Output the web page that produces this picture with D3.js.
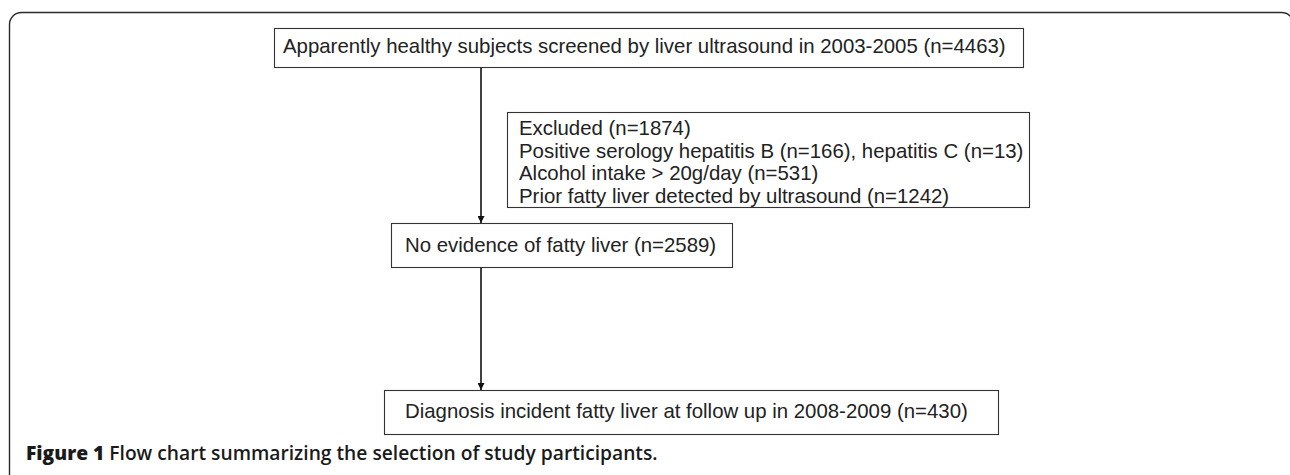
<!DOCTYPE html>
<html>
<head>
<meta charset="utf-8">
<script src="https://cdn.jsdelivr.net/npm/d3@7"></script>
<style>
  html, body { margin: 0; padding: 0; background: #fff; }
  svg { display: block; }
</style>
</head>
<body>
<svg id="chart" width="1290" height="475"></svg>
<script>
// ---- data ----
const stepLabels = [
  "Apparently healthy subjects screened by liver ultrasound in 2003-2005",
  "No evidence of fatty liver",
  "Diagnosis incident fatty liver at follow up in 2008-2009"
];
const stepCounts = [4463, 2589, 430];
const excludedLabel = "Excluded";
const excludedTotal = 1874;
const exclusionReasons = [
  "Positive serology hepatitis B (n=166), hepatitis C (n=13)",
  "Alcohol intake > 20g/day (n=531)",
  "Prior fatty liver detected by ultrasound (n=1242)"
];
const captionBold = "Figure 1";
const captionText = "Flow chart summarizing the selection of study participants.";

// ---- layout (positions only) ----
const stepBoxes = [
  {x0: 274, x1: 1023, y0: 28, y1: 67, tx: 283, ty: 53},
  {x0: 391, x1: 732, y0: 223, y1: 267, tx: 405, ty: 252},
  {x0: 384, x1: 998, y0: 390, y1: 434, tx: 405, ty: 418}
];
const exclBox = {x0: 507, x1: 1029, y0: 112, y1: 207, tx: 519, ty0: 135, dy: 22.6};
const arrowX = 481;
const textColor = "#222";
const fontFamily = "'Liberation Sans', Arial, Helvetica, sans-serif";
const fontSize = 20.4;

const svg = d3.select("#chart");

// arrow marker
svg.append("defs").append("marker")
  .attr("id", "arrow")
  .attr("viewBox", "0 0 10 10")
  .attr("refX", 10).attr("refY", 5)
  .attr("markerUnits", "userSpaceOnUse")
  .attr("markerWidth", 8).attr("markerHeight", 7)
  .attr("orient", "auto")
  .append("path").attr("d", "M0,0 L10,5 L0,10 Z").attr("fill", "#111");

// outer frame (rounded, open at bottom/right beyond view)
svg.append("rect")
  .attr("x", 9.5).attr("y", 12.5)
  .attr("width", 1284).attr("height", 520)
  .attr("rx", 12).attr("ry", 12)
  .attr("fill", "none").attr("stroke", "#2a2a2a").attr("stroke-width", 1.4);

// connectors
const links = [
  [stepBoxes[0].y1, stepBoxes[1].y0],
  [stepBoxes[1].y1, stepBoxes[2].y0]
];
svg.selectAll("line.link").data(links).join("line")
  .attr("class", "link")
  .attr("x1", arrowX).attr("x2", arrowX)
  .attr("y1", d => d[0]).attr("y2", d => d[1])
  .attr("stroke", "#111").attr("stroke-width", 1.6)
  .attr("marker-end", "url(#arrow)");

// step boxes
const g = svg.selectAll("g.step").data(stepLabels.map((l, i) => ({label: l, n: stepCounts[i], box: stepBoxes[i]})))
  .join("g").attr("class", "step");
g.append("rect")
  .attr("x", d => d.box.x0 + 0.5).attr("y", d => d.box.y0 + 0.5)
  .attr("width", d => d.box.x1 - d.box.x0).attr("height", d => d.box.y1 - d.box.y0)
  .attr("fill", "#fff").attr("stroke", "#333").attr("stroke-width", 1.1);
g.append("text")
  .attr("x", d => d.box.tx).attr("y", d => d.box.ty)
  .attr("font-family", fontFamily).attr("font-size", fontSize)
  .attr("fill", textColor)
  .text(d => `${d.label} (n=${d.n})`);

// exclusion box
svg.append("rect")
  .attr("x", exclBox.x0 + 0.5).attr("y", exclBox.y0 + 0.5)
  .attr("width", exclBox.x1 - exclBox.x0).attr("height", exclBox.y1 - exclBox.y0)
  .attr("fill", "#fff").attr("stroke", "#333").attr("stroke-width", 1.1);
const exclLines = [`${excludedLabel} (n=${excludedTotal})`].concat(exclusionReasons);
svg.selectAll("text.excl").data(exclLines).join("text")
  .attr("class", "excl")
  .attr("x", exclBox.tx)
  .attr("y", (d, i) => exclBox.ty0 + i * exclBox.dy)
  .attr("font-family", fontFamily).attr("font-size", fontSize)
  .attr("fill", textColor)
  .text(d => d);

// caption
const cap = svg.append("text")
  .attr("x", 26).attr("y", 460)
  .attr("font-family", "'Open Sans', 'Noto Sans', sans-serif")
  .attr("font-size", 16).attr("font-weight", 700)
  .attr("fill", "#1a1a1a");
cap.append("tspan").attr("font-weight", 800).text(captionBold + " ");
cap.append("tspan").attr("font-weight", 600).text(captionText);
// fit caption to the reference width
const targetW = 632;
const w = cap.node().getComputedTextLength();
cap.attr("font-size", 16 * targetW / w);
</script>
</body>
</html>
